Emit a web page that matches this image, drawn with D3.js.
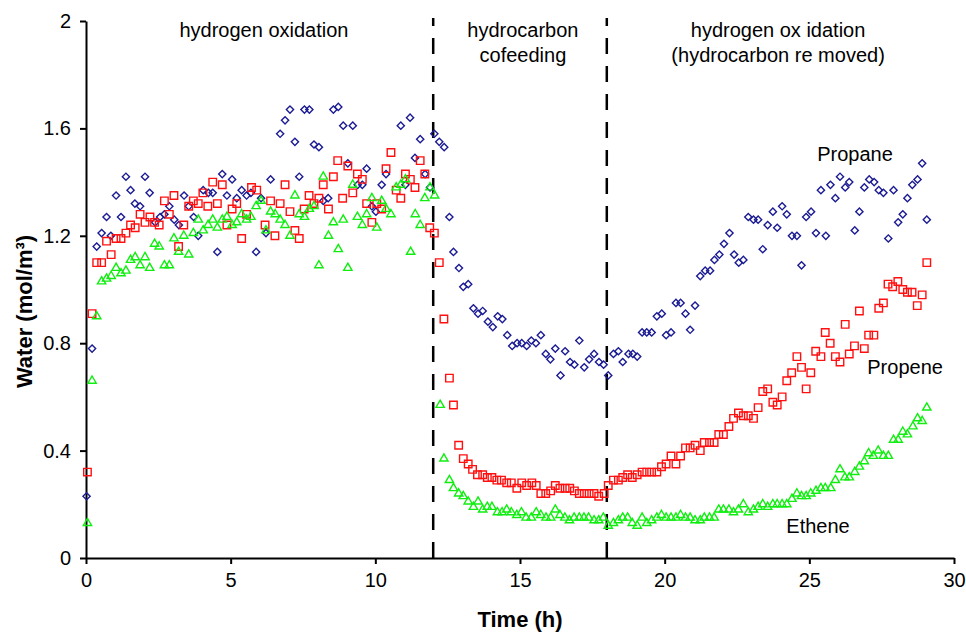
<!DOCTYPE html>
<html>
<head>
<meta charset="utf-8">
<script src="https://cdn.jsdelivr.net/npm/d3@7"></script>
<style>
  body { margin: 0; background: #fff; }
  text { font-family: "Liberation Sans", Arial, sans-serif; }
</style>
</head>
<body>
<svg id="chart" width="966" height="633"></svg>
<script>
// [time (h), water (mol/m3)]
const propaneData = [
  [0.02,0.23],[0.21,0.78],[0.37,1.16],[0.54,1.21],[0.71,1.27],[0.86,1.20],[1.04,1.35],[1.21,1.27],[1.38,1.42],[1.54,1.37],
  [1.69,1.32],[1.87,1.31],[2.04,1.42],[2.20,1.36],[2.39,1.25],[2.56,1.27],[2.71,1.28],[2.88,1.31],[3.05,1.26],[3.21,1.24],
  [3.39,1.35],[3.55,1.31],[3.72,1.27],[3.88,1.20],[4.05,1.37],[4.23,1.36],[4.38,1.36],[4.54,1.14],[4.71,1.43],[4.87,1.35],
  [5.05,1.41],[5.21,1.34],[5.38,1.37],[5.55,1.35],[5.70,1.36],[5.88,1.14],[6.05,1.34],[6.22,1.21],[6.38,1.41],[6.71,1.58],
  [6.88,1.63],[7.05,1.67],[7.22,1.55],[7.37,1.42],[7.55,1.67],[7.72,1.67],[7.88,1.54],[8.05,1.53],[8.20,1.33],[8.37,1.34],
  [8.55,1.67],[8.72,1.68],[8.89,1.61],[9.05,1.47],[9.22,1.61],[9.39,1.39],[9.55,1.39],[9.70,1.45],[9.88,1.31],[10.02,1.29],
  [10.22,1.39],[10.37,1.43],[10.88,1.61],[11.04,1.39],[11.20,1.64],[11.37,1.49],[11.55,1.56],[11.72,1.43],[11.89,1.38],[12.04,1.58],
  [12.21,1.55],[12.38,1.53],[12.56,1.27],[12.70,1.14],[12.89,1.08],[13.04,1.01],[13.21,1.02],[13.39,0.93],[13.55,0.91],[13.71,0.92],
  [13.89,0.88],[14.06,0.86],[14.23,0.90],[14.39,0.89],[14.56,0.83],[14.73,0.79],[14.90,0.80],[15.06,0.80],[15.23,0.79],[15.39,0.81],
  [15.55,0.80],[15.72,0.83],[15.89,0.76],[16.05,0.74],[16.22,0.78],[16.40,0.68],[16.56,0.77],[16.73,0.73],[16.88,0.72],[17.05,0.81],
  [17.22,0.71],[17.39,0.74],[17.56,0.76],[17.73,0.73],[17.89,0.72],[18.05,0.68],[18.23,0.76],[18.40,0.77],[18.55,0.73],[18.75,0.76],
  [18.90,0.76],[19.05,0.75],[19.22,0.84],[19.38,0.84],[19.55,0.84],[19.73,0.90],[19.90,0.91],[20.05,0.83],[20.22,0.84],[20.39,0.95],
  [20.55,0.95],[20.72,0.91],[20.88,0.85],[21.05,0.94],[21.23,1.05],[21.40,1.07],[21.57,1.07],[21.72,1.11],[21.89,1.13],[22.05,1.17],
  [22.24,1.21],[22.40,1.13],[22.56,1.10],[22.72,1.11],[22.89,1.27],[23.07,1.26],[23.23,1.26],[23.39,1.15],[23.56,1.24],[23.74,1.29],
  [23.89,1.23],[24.06,1.31],[24.22,1.28],[24.40,1.20],[24.57,1.20],[24.73,1.09],[24.89,1.27],[25.06,1.29],[25.23,1.21],[25.40,1.37],
  [25.57,1.20],[25.73,1.39],[25.90,1.34],[26.06,1.42],[26.24,1.38],[26.38,1.40],[26.57,1.22],[26.73,1.29],[26.90,1.38],[27.07,1.41],
  [27.24,1.40],[27.40,1.37],[27.56,1.36],[27.73,1.19],[27.91,1.37],[28.07,1.25],[28.23,1.28],[28.39,1.34],[28.56,1.39],[28.74,1.41],
  [28.90,1.47],[29.06,1.26]
];

const propeneData = [
  [0.05,0.32],[0.21,0.91],[0.37,1.10],[0.54,1.10],[0.71,1.18],[0.87,1.13],[1.04,1.19],[1.21,1.19],[1.38,1.21],[1.54,1.24],
  [1.70,1.23],[1.87,1.28],[2.04,1.25],[2.21,1.27],[2.37,1.25],[2.53,1.24],[2.71,1.33],[2.88,1.28],[3.04,1.35],[3.20,1.16],
  [3.38,1.24],[3.55,1.31],[3.71,1.33],[3.88,1.32],[4.04,1.36],[4.21,1.31],[4.38,1.40],[4.54,1.32],[4.71,1.39],[4.87,1.24],
  [5.05,1.30],[5.21,1.32],[5.38,1.19],[5.55,1.28],[5.72,1.38],[5.90,1.37],[6.19,1.24],[6.38,1.33],[6.53,1.20],[6.71,1.32],
  [6.88,1.39],[7.05,1.29],[7.22,1.22],[7.37,1.19],[7.54,1.30],[7.71,1.35],[7.88,1.32],[8.05,1.34],[8.20,1.39],[8.38,1.30],
  [8.55,1.42],[8.70,1.48],[8.87,1.34],[9.05,1.46],[9.22,1.36],[9.38,1.43],[9.55,1.41],[9.70,1.32],[9.88,1.25],[10.05,1.32],
  [10.22,1.30],[10.37,1.45],[10.54,1.51],[10.72,1.37],[10.88,1.34],[11.04,1.43],[11.21,1.41],[11.37,1.38],[11.55,1.48],[11.71,1.43],
  [11.88,1.23],[12.04,1.21],[12.21,1.10],[12.37,0.89],[12.56,0.67],[12.70,0.57],[12.88,0.42],[13.04,0.37],[13.21,0.35],[13.36,0.33],
  [13.53,0.31],[13.71,0.31],[13.87,0.30],[14.03,0.30],[14.20,0.29],[14.36,0.29],[14.54,0.28],[14.70,0.28],[14.89,0.26],[15.06,0.28],
  [15.23,0.27],[15.41,0.28],[15.56,0.27],[15.72,0.24],[15.89,0.24],[16.06,0.25],[16.22,0.27],[16.38,0.26],[16.56,0.26],[16.72,0.26],
  [16.88,0.25],[17.05,0.24],[17.22,0.24],[17.39,0.24],[17.56,0.24],[17.72,0.23],[17.91,0.24],[18.05,0.27],[18.23,0.29],[18.40,0.29],
  [18.55,0.30],[18.72,0.31],[18.88,0.30],[19.05,0.31],[19.22,0.32],[19.38,0.32],[19.55,0.32],[19.73,0.32],[19.89,0.34],[20.05,0.35],
  [20.22,0.38],[20.39,0.35],[20.55,0.38],[20.72,0.41],[20.88,0.41],[21.05,0.42],[21.23,0.40],[21.37,0.43],[21.55,0.43],[21.71,0.43],
  [21.87,0.46],[22.03,0.46],[22.22,0.49],[22.38,0.52],[22.55,0.54],[22.72,0.53],[22.89,0.53],[23.07,0.52],[23.23,0.56],[23.39,0.62],
  [23.56,0.63],[23.74,0.58],[23.89,0.57],[24.06,0.60],[24.22,0.66],[24.39,0.69],[24.57,0.75],[24.73,0.71],[24.89,0.63],[25.05,0.69],
  [25.22,0.77],[25.40,0.75],[25.55,0.84],[25.72,0.80],[25.90,0.75],[26.06,0.73],[26.24,0.87],[26.38,0.76],[26.56,0.79],[26.73,0.92],
  [26.90,0.78],[27.05,0.83],[27.23,0.83],[27.40,0.93],[27.56,0.95],[27.72,1.02],[27.88,1.01],[28.06,1.03],[28.23,1.00],[28.39,0.99],
  [28.55,0.99],[28.73,0.94],[28.90,0.98],[29.06,1.10]
];

const etheneData = [
  [0.05,0.13],[0.21,0.66],[0.37,0.90],[0.54,1.03],[0.71,1.04],[0.87,1.05],[1.04,1.08],[1.21,1.06],[1.38,1.07],[1.54,1.11],
  [1.70,1.12],[1.87,1.09],[2.04,1.12],[2.20,1.08],[2.37,1.17],[2.53,1.16],[2.71,1.09],[2.88,1.09],[3.04,1.19],[3.20,1.14],
  [3.38,1.20],[3.55,1.13],[3.71,1.21],[3.88,1.26],[4.05,1.22],[4.22,1.24],[4.38,1.26],[4.54,1.23],[4.71,1.26],[4.87,1.27],
  [5.05,1.24],[5.21,1.25],[5.38,1.28],[5.55,1.26],[5.70,1.27],[5.88,1.31],[6.05,1.33],[6.22,1.22],[6.38,1.29],[6.54,1.28],
  [6.71,1.26],[6.88,1.24],[7.05,1.20],[7.22,1.35],[7.37,1.28],[7.55,1.27],[7.72,1.30],[7.88,1.31],[8.05,1.09],[8.20,1.42],
  [8.38,1.20],[8.55,1.25],[8.72,1.15],[8.89,1.26],[9.05,1.08],[9.22,1.39],[9.38,1.27],[9.55,1.24],[9.70,1.28],[9.88,1.34],
  [10.05,1.23],[10.22,1.33],[10.37,1.30],[10.54,1.28],[10.72,1.38],[10.88,1.39],[11.04,1.41],[11.22,1.14],[11.38,1.28],[11.55,1.24],
  [11.71,1.34],[11.89,1.38],[12.05,1.35],[12.24,0.57],[12.37,0.37],[12.56,0.29],[12.70,0.26],[12.88,0.24],[13.04,0.23],[13.21,0.21],
  [13.39,0.19],[13.55,0.21],[13.71,0.18],[13.87,0.19],[14.03,0.19],[14.22,0.17],[14.38,0.17],[14.54,0.18],[14.70,0.17],[14.89,0.16],
  [15.05,0.17],[15.21,0.15],[15.39,0.15],[15.56,0.17],[15.72,0.16],[15.90,0.15],[16.06,0.15],[16.22,0.18],[16.38,0.16],[16.55,0.15],
  [16.71,0.14],[16.87,0.15],[17.05,0.15],[17.21,0.15],[17.37,0.15],[17.56,0.14],[17.72,0.14],[17.88,0.15],[18.05,0.12],[18.23,0.13],
  [18.40,0.14],[18.55,0.15],[18.72,0.15],[18.88,0.13],[19.05,0.12],[19.22,0.15],[19.38,0.13],[19.55,0.14],[19.73,0.15],[19.89,0.16],
  [20.05,0.15],[20.22,0.15],[20.39,0.15],[20.55,0.16],[20.72,0.15],[20.88,0.15],[21.05,0.14],[21.23,0.14],[21.37,0.15],[21.55,0.15],
  [21.71,0.15],[21.87,0.18],[22.03,0.18],[22.22,0.18],[22.38,0.17],[22.55,0.18],[22.72,0.20],[22.89,0.17],[23.07,0.18],[23.23,0.19],
  [23.39,0.20],[23.56,0.19],[23.74,0.20],[23.89,0.20],[24.06,0.20],[24.22,0.20],[24.40,0.22],[24.57,0.24],[24.73,0.23],[24.89,0.23],
  [25.05,0.24],[25.23,0.25],[25.40,0.26],[25.55,0.26],[25.74,0.26],[25.90,0.29],[26.06,0.33],[26.23,0.30],[26.38,0.30],[26.57,0.32],
  [26.73,0.34],[26.90,0.36],[27.05,0.39],[27.21,0.38],[27.38,0.40],[27.56,0.38],[27.73,0.38],[27.91,0.44],[28.07,0.44],[28.23,0.47],
  [28.39,0.46],[28.58,0.49],[28.74,0.52],[28.90,0.51],[29.06,0.56]
];

const xTicks = [0, 5, 10, 15, 20, 25, 30];
const yTicks = [0, 0.4, 0.8, 1.2, 1.6, 2];
const phaseBreaks = [12, 18];
const phaseNames = [
  ["hydrogen oxidation"],
  ["hydrocarbon", "cofeeding"],
  ["hydrogen ox idation", "(hydrocarbon re moved)"]
];
const seriesNames = ["Propane", "Propene", "Ethene"];

const chart = d3.select("#chart");

const X0 = 86, X1 = 954, Y0 = 558, Y1 = 21;

const xScale = d3.scaleLinear().domain([0, 30]).range([X0, X1]);
const yScale = d3.scaleLinear().domain([0, 2]).range([Y0, Y1]);

// phase separators
chart.selectAll("line.phase")
     .data(phaseBreaks)
     .enter()
     .append("line")
     .attr("class", "phase")
     .attr("x1", (d) => xScale(d))
     .attr("x2", (d) => xScale(d))
     .attr("y1", Y0)
     .attr("y2", 18)
     .attr("stroke", "#000")
     .attr("stroke-width", 2.5)
     .attr("stroke-dasharray", "16,12");

// axes
const xAxis = chart.append("g")
                   .attr("transform", `translate(0,${Y0})`)
                   .call(d3.axisBottom(xScale).tickValues(xTicks).tickSize(6).tickSizeOuter(0).tickPadding(9));
const yAxis = chart.append("g")
                   .attr("transform", `translate(${X0},0)`)
                   .call(d3.axisLeft(yScale).tickValues(yTicks).tickSize(6).tickSizeOuter(0).tickPadding(9)
                           .tickFormat((d) => String(d)));

[xAxis, yAxis].forEach((ax) => {
    ax.select(".domain").attr("stroke-width", 2);
    ax.selectAll(".tick line").attr("stroke-width", 2);
    ax.selectAll(".tick text")
      .attr("font-family", "'Liberation Sans', Arial, sans-serif")
      .attr("font-size", 20)
      .attr("fill", "#000");
});

// markers
const diamond = d3.symbol(d3.symbolSquare, 26);
const square = d3.symbol(d3.symbolSquare, 56);
const triangle = d3.symbol(d3.symbolTriangle, 30);

chart.append("g").selectAll("path")
     .data(propaneData)
     .enter()
     .append("path")
     .attr("d", diamond)
     .attr("transform", (d) => `translate(${xScale(d[0])},${yScale(d[1])}) rotate(45)`)
     .attr("fill", "none")
     .attr("stroke", "#1c1c94")
     .attr("stroke-width", 1.4);

chart.append("g").selectAll("path")
     .data(propeneData)
     .enter()
     .append("path")
     .attr("d", square)
     .attr("transform", (d) => `translate(${xScale(d[0])},${yScale(d[1])})`)
     .attr("fill", "none")
     .attr("stroke", "#ff1010")
     .attr("stroke-width", 1.4);

chart.append("g").selectAll("path")
     .data(etheneData)
     .enter()
     .append("path")
     .attr("d", triangle)
     .attr("transform", (d) => `translate(${xScale(d[0])},${yScale(d[1])})`)
     .attr("fill", "none")
     .attr("stroke", "#10ee10")
     .attr("stroke-width", 1.4);

// phase titles
const phaseX = [6.15, 15.1, 23.92];
phaseNames.forEach((lines, i) => {
    lines.forEach((s, j) => {
        chart.append("text")
             .attr("x", xScale(phaseX[i]))
             .attr("y", 37 + j * 25)
             .attr("text-anchor", "middle")
             .attr("font-size", 20)
             .text(s);
    });
});

// series labels
const labelPos = [[26.58, 1.48], [28.31, 0.685], [25.3, 0.093]];
seriesNames.forEach((s, i) => {
    chart.append("text")
         .attr("x", xScale(labelPos[i][0]))
         .attr("y", yScale(labelPos[i][1]))
         .attr("text-anchor", "middle")
         .attr("font-size", 20)
         .text(s);
});

// axis titles
chart.append("text")
     .attr("x", (X0 + X1) / 2)
     .attr("y", 627)
     .attr("text-anchor", "middle")
     .attr("font-size", 22)
     .attr("font-weight", "bold")
     .text("Time (h)");

chart.append("text")
     .attr("transform", `translate(32,${(Y0 + Y1) / 2 + 22}) rotate(-90)`)
     .attr("text-anchor", "middle")
     .attr("font-size", 22)
     .attr("font-weight", "bold")
     .text("Water (mol/m³)");
</script>
</body>
</html>
